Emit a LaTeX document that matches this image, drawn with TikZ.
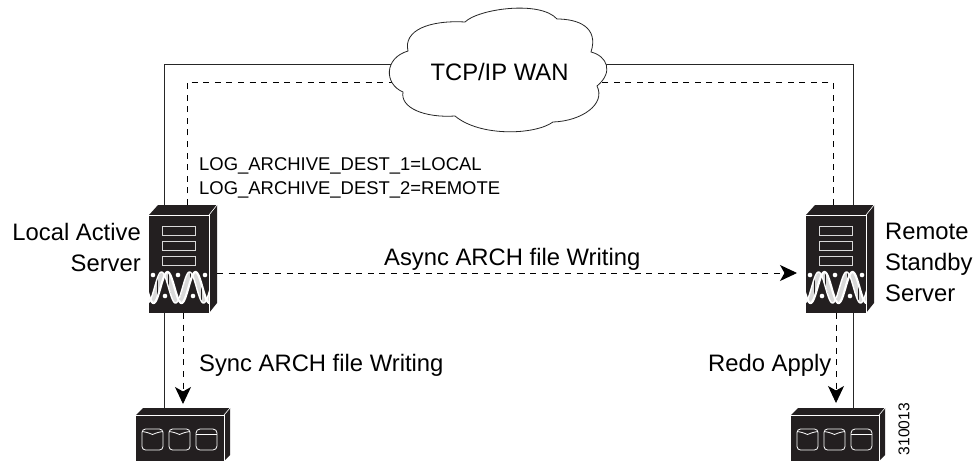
\documentclass[tikz,border=0pt]{standalone}
\usepackage{fontspec}
\setmainfont{Liberation Sans}
\usetikzlibrary{arrows.meta}
\definecolor{hw}{HTML}{231F20}
\tikzset{
  x=1pt,y=-1pt,
  wire/.style={draw=black!85,line width=.8pt},
  dashwire/.style={draw=black,line width=.9pt,dash pattern=on 6pt off 5.6pt},
  tiparrow/.style={dashwire,-{Stealth[length=17pt,width=16pt,inset=4.5pt,fill=black]}},
  big/.style={font=\fontsize{23.8}{26}\selectfont,inner sep=0pt},
  small/.style={font=\fontsize{18.45}{23.5}\selectfont,inner sep=0pt,align=left},
  srvface/.style={fill=hw,draw=none,inner sep=0pt,minimum width=60pt,minimum height=98pt,anchor=north west},
  stoface/.style={fill=hw,draw=none,inner sep=0pt,minimum width=88pt,minimum height=46pt,anchor=north west},
  serverbox/.pic={
    \fill[hw] (0,0) -- (9,-10) -- (68,-10) -- (60,0) -- cycle;
    \fill[hw] (60,0) -- (68,-10) -- (68,88) -- (60,98) -- cycle;
    \draw[white,line width=.6pt] (0,0) -- (60,0) -- (60,98);
    \draw[white,line width=.6pt] (60,0) -- (68,-10);
    \foreach \ry in {11,26,41}
      \draw[black!15,line width=1pt] (13,\ry) rectangle (46,\ry+9.5);
    \begin{scope}
      \clip (0,50) rectangle (60,98);
      \foreach \q in {0,1.1,...,60}
        \draw[white!85!black,line width=.5pt]
          (\q,{72.5-15.5*cos((\q-12.5)/28*360)}) -- (\q,{72.5-15.5*cos((\q-18.5)/28*360)});
      \draw[white,line width=1.4pt,samples=90,domain=-2:62,smooth]
        plot (\x,{72.5-15.5*cos((\x-12.5)/28*360)});
      \draw[white,line width=2.2pt,samples=90,domain=-2:62,smooth]
        plot (\x,{72.5-15.5*cos((\x-18.5)/28*360)});
    \end{scope}
    \foreach \dx/\dy in {4/60,29/60,56/60,16/81,44/81}
      \fill[white] (\dx,\dy) circle (2.3pt);
  },
  diskA/.pic={
    \draw[white,line width=.8pt,rounded corners=3.5pt] (0,0) rectangle (21,21);
    \draw[white,line width=.8pt] (0,2.5) .. controls (7,3.5) and (9,5) .. (10.5,5.5) .. controls (12,5) and (14,3.5) .. (21,2.5);
  },
  diskB/.pic={
    \draw[white,line width=.8pt,rounded corners=4pt] (0,0) rectangle (21,21);
    \draw[white,line width=.8pt] (0,5.5) -- (21,5.5);
  },
  storebox/.pic={
    \fill[hw] (0,0) -- (7,-7) -- (94,-7) -- (88,0) -- cycle;
    \fill[hw] (88,0) -- (94,-7) -- (94,40) -- (88,46) -- cycle;
    \draw[white,line width=.6pt] (0,0) -- (88,0) -- (88,46);
    \draw[white,line width=.6pt] (88,0) -- (94,-7);
    \pic at (6,14) {diskA};
    \pic at (33,14) {diskA};
    \pic at (60,14) {diskB};
  }
}
\begin{document}
\begin{tikzpicture}
\useasboundingbox (0,0) rectangle (976,464);
\fill[white] (0,0) rectangle (976,464);
% hardware
\node[srvface] (ls) at (149,215) {};
\pic at (ls.north west) {serverbox};
\node[srvface] (rs) at (806,215) {};
\pic at (rs.north west) {serverbox};
\node[stoface] (ld) at (136,415) {};
\pic at (ld.north west) {storebox};
\node[stoface] (rd) at (791,415) {};
\pic at (rd.north west) {storebox};
% connection points
\coordinate (lsS) at (164,205);
\coordinate (lsD) at (187,205);
\coordinate (rsS) at (853,205);
\coordinate (rsD) at (833,205);
\coordinate (wanLS) at (400,64);
\coordinate (wanLD) at (400,82);
\coordinate (wanRS) at (595,64);
\coordinate (wanRD) at (590,82);
\coordinate (lsB) at (164,313);
\coordinate (ldT) at (164,408);
\coordinate (lsA) at (183,313);
\coordinate (ldA) at (183,404);
\coordinate (rsB) at (853,313);
\coordinate (rdT) at (853,408);
\coordinate (rsA) at (836,313);
\coordinate (rdA) at (836,403);
\coordinate (lsR) at (217,273);
\coordinate (rsL) at (797,273);
% connectors
\draw[wire] (lsS) |- (wanLS);
\draw[wire] (rsS) |- (wanRS);
\draw[dashwire] (lsD) |- (wanLD);
\draw[dashwire] (rsD) |- (wanRD);
\draw[wire] (lsB) -- (ldT);
\draw[wire] (rsB) -- (rdT);
\draw[tiparrow] (lsA) -- (ldA);
\draw[tiparrow] (rsA) -- (rdA);
\draw[tiparrow] (lsR) -- (rsL);
% cloud
\draw[fill=white,draw=black!85,line width=.8pt]
  (465,22)
  .. controls (478,9) and (540,0) .. (557,19)
  .. controls (578,19) and (599,27) .. (591,52)
  .. controls (607,56) and (614,72) .. (597,86)
  .. controls (606,104) and (582,121) .. (553,122)
  .. controls (535,135) and (480,137) .. (455,116)
  .. controls (425,118) and (400,108) .. (403,92)
  .. controls (384,84) and (384,58) .. (408,51)
  .. controls (403,30) and (430,20) .. (465,22)
  -- cycle;
\node[big] (wan) at (499.5,72) {TCP/IP WAN};
% labels
\node[small,anchor=north west] (dest) at (199,157.5) {LOG\_ARCHIVE\_DEST\_1=LOCAL\\LOG\_ARCHIVE\_DEST\_2=REMOTE};
\node[big,align=right,anchor=east] (lbl1) at (141,247.5) {Local Active\\[5pt]Server};
\node[big,align=left,anchor=west] (lbl2) at (885,262.5) {Remote\\[5pt]Standby\\[5pt]Server};
\node[big,anchor=west] (lbl3) at (384,259) {Async ARCH file Writing};
\node[big,anchor=west] (lbl4) at (199,365.5) {Sync ARCH file Writing};
\node[big,anchor=west] (lbl5) at (708,365.5) {Redo Apply};
\node[inner sep=0pt,font=\fontsize{15.6}{18}\selectfont,rotate=90] (ref) at (904,429) {310013};
\end{tikzpicture}
\end{document}
